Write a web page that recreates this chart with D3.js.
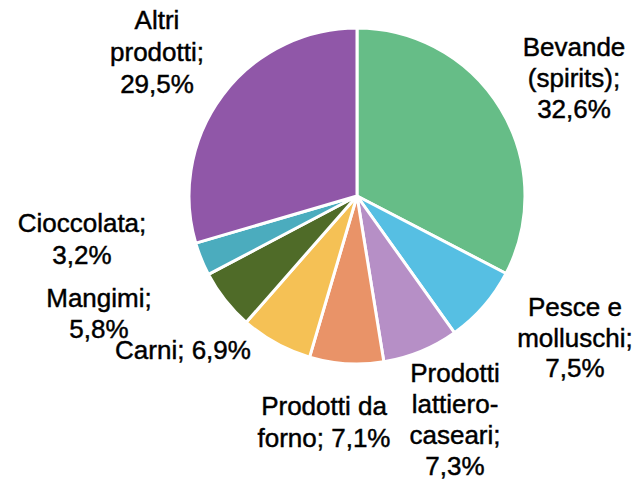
<!DOCTYPE html>
<html><head><meta charset="utf-8">
<script src="https://cdn.jsdelivr.net/npm/d3@7"></script>
<style>html,body{margin:0;padding:0;background:#fff;}</style>
</head><body>
<svg id="c" width="638" height="481"></svg>
<script>
const categories = ["Bevande (spirits)", "Pesce e molluschi", "Prodotti lattiero-caseari", "Prodotti da forno", "Carni", "Mangimi", "Cioccolata", "Altri prodotti"];
const values = [32.6, 7.5, 7.3, 7.1, 6.9, 5.8, 3.2, 29.5];
const valueLabels = ["32,6%", "7,5%", "7,3%", "7,1%", "6,9%", "5,8%", "3,2%", "29,5%"];
const labelLines = [
  ["Bevande", "(spirits);", "32,6%"],
  ["Pesce e", "molluschi;", "7,5%"],
  ["Prodotti", "lattiero-", "caseari;", "7,3%"],
  ["Prodotti da", "forno; 7,1%"],
  ["Carni; 6,9%"],
  ["Mangimi;", "5,8%"],
  ["Cioccolata;", "3,2%"],
  ["Altri", "prodotti;", "29,5%"]
];
const colors = ["#66BD87", "#56BFE3", "#B68FC6", "#E99368", "#F5C155", "#4F6B28", "#4BACBE", "#9057A8"];

const svg = d3.select("#c");
const cx = 357, cy = 196, r = 168;
const g = svg.append("g").attr("transform", `translate(${cx},${cy})`);
const pie = d3.pie().sort(null).value(d => d)(values);
const arc = d3.arc().innerRadius(0).outerRadius(r);
g.selectAll("path").data(pie).join("path")
  .attr("d", arc)
  .attr("fill", (d, i) => colors[i])
  .attr("stroke", "#fff").attr("stroke-width", 3).attr("stroke-linejoin", "round");

// label anchor positions (center x, first baseline y, line height)
const labelPos = [[574, 56, 31], [575, 316, 30.5], [455, 382, 31], [324, 415, 31.5], [183, 359, 31], [99, 307, 31], [82, 232, 31.5], [157, 29, 32]];
labelLines.forEach((lines, i) => {
  const t = svg.append("text")
    .attr("x", labelPos[i][0]).attr("y", labelPos[i][1])
    .attr("text-anchor", "middle")
    .attr("font-family", "'Liberation Sans', Arial, sans-serif")
    .attr("font-size", 26).attr("fill", "#000")
    .attr("stroke", "#000").attr("stroke-width", 0.45);
  lines.forEach((ln, j) => {
    t.append("tspan").attr("x", labelPos[i][0]).attr("dy", j === 0 ? 0 : labelPos[i][2]).text(ln);
  });
});
</script>
</body></html>
